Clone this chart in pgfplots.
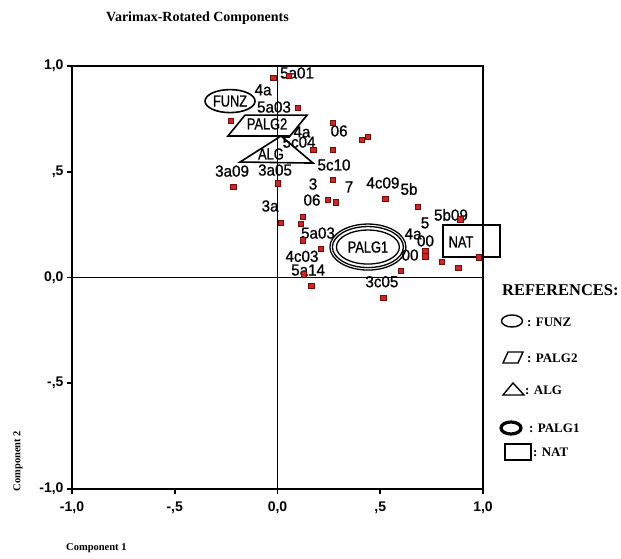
\documentclass[border=0pt]{standalone}
\usepackage{fontspec}
\setmainfont{Liberation Serif}
\setsansfont{Liberation Sans}
\newfontfamily\lblfont[FakeStretch=0.95,FakeBold=0.8]{Liberation Sans}
\newfontfamily\shpfont[FakeStretch=0.8,FakeBold=0.8]{Liberation Sans}
\usepackage{pgfplots}
\pgfplotsset{compat=1.18}
\definecolor{ptfill}{RGB}{200,40,40}
\definecolor{ptdraw}{RGB}{120,10,10}
\tikzset{
  lbl/.style={font=\lblfont\fontsize{16}{16}\selectfont, inner sep=0pt},
  shp/.style={font=\shpfont\fontsize{16}{16}\selectfont, inner sep=0pt},
  leg/.style={anchor=west, inner sep=0pt, font=\rmfamily\bfseries\fontsize{13}{13}\selectfont},
}
\begin{document}
\begin{tikzpicture}
\begin{axis}[
  at={(0,0)}, anchor=south west,
  scale only axis, width=411pt, height=423pt,
  xmin=-1, xmax=1, ymin=-1, ymax=1,
  xtick={-1,-0.5,0,0.5,1}, ytick={-1,-0.5,0,0.5,1},
  xticklabels={{-1,0},{-,5},{0,0},{,5},{1,0}},
  yticklabels={{-1,0},{-,5},{0,0},{,5},{1,0}},
  tick align=outside, tick pos=left,
  major tick length=5pt,
  tick style={line width=1.6pt, black},
  axis line style={line width=1.8pt},
  ticklabel style={font=\sffamily\bfseries\fontsize{14}{14}\selectfont},
  xticklabel style={yshift=-4pt},
  clip=false,
]
% zero lines
\draw[line width=1.8pt] (axis cs:0,-1) -- (axis cs:0,1);
\draw[line width=1.8pt] (axis cs:-1,0) -- (axis cs:1,0);
% component loadings
\addplot[only marks, mark=square*, mark size=2.6pt,
  mark options={fill=ptfill, draw=ptdraw, line width=0.8pt}] coordinates {
(-0.02,0.945) (0.056,0.955) (0.10,0.80) (-0.225,0.74) (0.175,0.605)
(0.27,0.73) (0.27,0.605) (0.41,0.65) (0.44,0.665) (-0.215,0.43)
(0.0,0.445) (0.27,0.46) (0.245,0.365) (0.285,0.355) (0.525,0.37)
(0.685,0.335) (0.89,0.275) (0.015,0.26) (0.125,0.285) (0.115,0.255)
(0.125,0.175) (0.21,0.135) (0.13,0.015) (0.165,-0.04) (0.72,0.125)
(0.72,0.10) (0.80,0.075) (0.88,0.045) (0.98,0.095) (0.60,0.03)
(0.515,-0.095)
};
% point labels
\node[lbl] at (axis cs:0.095,0.967) {5a01};
\node[lbl] at (axis cs:-0.07,0.887) {4a};
\node[lbl] at (axis cs:-0.017,0.806) {5a03};
\node[lbl] at (axis cs:0.119,0.688) {4a};
\node[lbl] at (axis cs:0.105,0.64) {5c04};
\node[lbl] at (axis cs:0.30,0.693) {06};
\node[lbl] at (axis cs:0.275,0.532) {5c10};
\node[lbl] at (axis cs:-0.221,0.503) {3a09};
\node[lbl] at (axis cs:-0.012,0.508) {3a05};
\node[lbl] at (axis cs:0.173,0.442) {3};
\node[lbl] at (axis cs:0.348,0.428) {7};
\node[lbl] at (axis cs:0.513,0.447) {4c09};
\node[lbl] at (axis cs:0.64,0.418) {5b};
\node[lbl] at (axis cs:0.168,0.366) {06};
\node[lbl] at (axis cs:-0.036,0.338) {3a};
\node[lbl] at (axis cs:0.197,0.21) {5a03};
\node[lbl] at (axis cs:0.119,0.10) {4c03};
\node[lbl] at (axis cs:0.149,0.035) {5a14};
\node[lbl] at (axis cs:0.508,-0.02) {3c05};
\node[lbl] at (axis cs:0.718,0.258) {5};
\node[lbl] at (axis cs:0.66,0.206) {4a};
\node[lbl] at (axis cs:0.72,0.173) {00};
\node[lbl] at (axis cs:0.645,0.106) {00};
\node[lbl] at (axis cs:0.844,0.296) {5b09};
% group shapes
\draw[line width=1.6pt] (axis cs:-0.231,0.834) ellipse [x radius=25pt, y radius=11.5pt];
\node[shp] at (axis cs:-0.231,0.834) {FUNZ};
\draw[line width=1.6pt] (axis cs:-0.158,0.768) -- (axis cs:0.144,0.768) -- (axis cs:0.061,0.669) -- (axis cs:-0.241,0.669) -- cycle;
\node[shp] at (axis cs:-0.051,0.726) {PALG2};
\draw[line width=1.6pt] (axis cs:0.017,0.669) -- (axis cs:-0.182,0.546) -- (axis cs:0.173,0.541) -- cycle;
\node[shp] at (axis cs:-0.032,0.584) {ALG};
\draw[line width=1.3pt] (axis cs:0.44,0.144) ellipse [x radius=38pt, y radius=23pt];
\draw[line width=1.3pt] (axis cs:0.44,0.144) ellipse [x radius=35.5pt, y radius=20.5pt];
\draw[line width=1.3pt] (axis cs:0.44,0.144) ellipse [x radius=31.5pt, y radius=17pt];
\node[shp] at (axis cs:0.44,0.144) {PALG1};
\draw[line width=1.6pt] (axis cs:0.805,0.097) rectangle (axis cs:1.083,0.248);
\node[shp] at (axis cs:0.893,0.168) {NAT};
\end{axis}
% title and axis titles
\node[font=\rmfamily\bfseries\fontsize{14}{14}\selectfont] at (125.5pt,471pt) {Varimax-Rotated Components};
\node[anchor=west, inner sep=0pt, font=\rmfamily\bfseries\fontsize{10.5}{10.5}\selectfont] at (-6pt,-59pt) {Component 1};
\node[rotate=90, inner sep=0pt, font=\rmfamily\bfseries\fontsize{10.5}{10.5}\selectfont] at (-54pt,28pt) {Component 2};
% legend
\node[anchor=west, inner sep=0pt, font=\rmfamily\bfseries\fontsize{16.5}{16.5}\selectfont] at (430pt,199pt) {REFERENCES:};
\draw[line width=1.4pt] (440pt,168pt) ellipse [x radius=10.5pt, y radius=6pt];
\node[leg] at (455pt,167pt) {: FUNZ};
\draw[line width=1.4pt] (436pt,137pt) -- (451pt,137pt) -- (446pt,126pt) -- (431pt,126pt) -- cycle;
\node[leg] at (455pt,131pt) {: PALG2};
\draw[line width=1.4pt] (441pt,106pt) -- (431pt,94pt) -- (452pt,94pt) -- cycle;
\node[leg] at (453pt,99pt) {: ALG};
\draw[line width=3.2pt] (439pt,61pt) ellipse [x radius=10pt, y radius=6pt];
\node[leg] at (457pt,61pt) {: PALG1};
\draw[line width=1.5pt] (433pt,29pt) rectangle (459pt,45pt);
\node[leg] at (461pt,37pt) {: NAT};
\pgfresetboundingbox
\path[use as bounding box] (-72pt,-70pt) rectangle (549pt,489pt);
\end{tikzpicture}
\end{document}
